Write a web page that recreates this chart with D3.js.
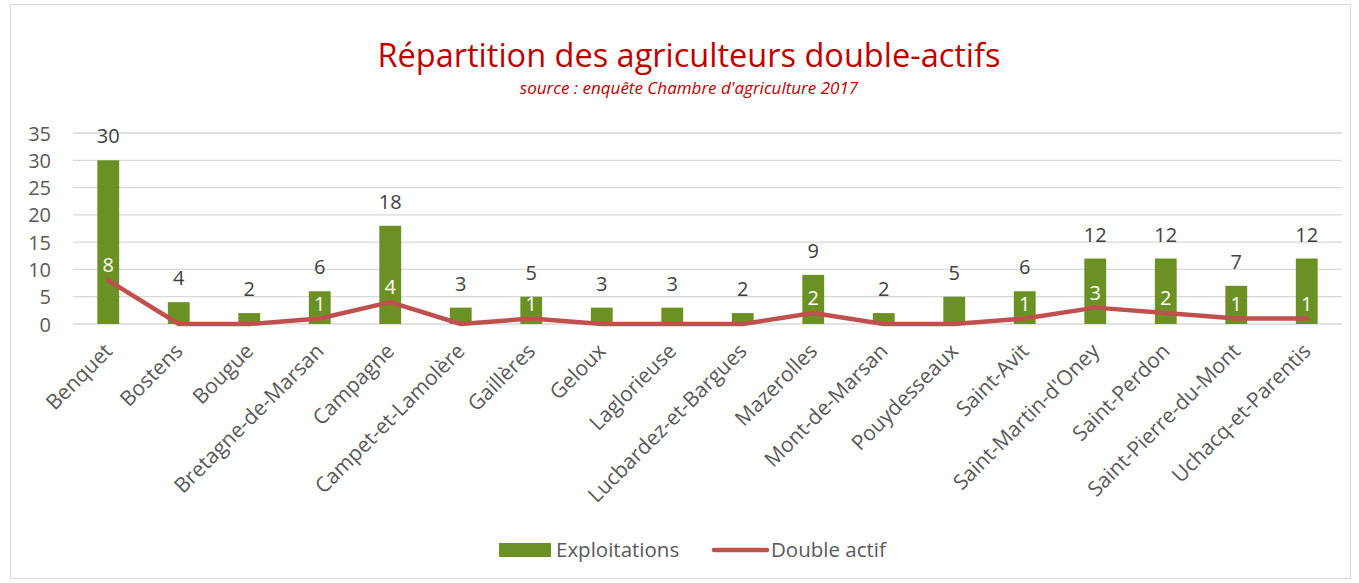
<!DOCTYPE html>
<html>
<head>
<meta charset="utf-8">
<script src="https://cdn.jsdelivr.net/npm/d3@7"></script>
<style>
  body { margin: 0; background: #fff; }
  svg text { font-family: "Open Sans", sans-serif; }
</style>
</head>
<body>
<div class="chart"></div>
<script>
let communes = ['Benquet','Bostens','Bougue','Bretagne-de-Marsan','Campagne','Campet-et-Lamolère','Gaillères','Geloux','Laglorieuse','Lucbardez-et-Bargues','Mazerolles','Mont-de-Marsan','Pouydesseaux','Saint-Avit','Saint-Martin-d\'Oney','Saint-Perdon','Saint-Pierre-du-Mont','Uchacq-et-Parentis']
let exploitations = [30,4,2,6,18,3,5,3,3,2,9,2,5,6,12,12,7,12]
let doubleActif = [8,0,0,1,4,0,1,0,0,0,2,0,0,1,3,2,1,1]
let yTicks = [0,5,10,15,20,25,30,35]

let w = 1359, h = 583
let svg = d3.select('.chart').append('svg').attr('width', w).attr('height', h)

// outer frame
svg.append('rect').attr('x', 10.5).attr('y', 4.5).attr('width', 1340).attr('height', 574)
  .attr('fill', '#fff').attr('stroke', '#d9d9d9')

svg.append('text').text('Répartition des agriculteurs double-actifs')
  .attr('x', 689).attr('y', 67).attr('text-anchor', 'middle')
  .style('font-size', '32.5px').style('fill', '#c00000')
svg.append('text').text('source : enquête Chambre d\'agriculture 2017')
  .attr('x', 689).attr('y', 94).attr('text-anchor', 'middle')
  .style('font-size', '17px').style('font-style', 'italic').style('fill', '#c00000')

let xScale = d3.scaleBand().domain(communes).range([73, 1342]).paddingInner(0.69).paddingOuter(0.345)
let yScale = d3.scaleLinear().domain([0, 35]).range([324, 133])

// gridlines
svg.append('g').selectAll('line').data(yTicks).enter().append('line')
  .attr('x1', 73).attr('x2', 1342)
  .attr('y1', d => yScale(d)).attr('y2', d => yScale(d))
  .attr('stroke', '#d9d9d9').attr('stroke-width', 1.3)

let yAxis = d3.axisLeft(yScale).tickValues(yTicks).tickSize(0).tickPadding(0)
let gy = svg.append('g').attr('transform', 'translate(51,0)').call(yAxis)
gy.select('.domain').remove()
gy.selectAll('text').style('font-size', '20px').style('fill', '#595959').attr('dy', '0.35em')
  .style('font-family', '"Open Sans", sans-serif')

// bars
svg.selectAll('.bar').data(exploitations).enter().append('rect').attr('class', 'bar')
  .attr('x', (d, i) => xScale(communes[i]))
  .attr('y', d => yScale(d))
  .attr('width', xScale.bandwidth())
  .attr('height', d => yScale(0) - yScale(d))
  .attr('fill', '#6b9124')

svg.selectAll('.barlabel').data(exploitations).enter().append('text').attr('class', 'barlabel')
  .text(d => d)
  .attr('x', (d, i) => xScale(communes[i]) + xScale.bandwidth() / 2)
  .attr('y', d => yScale(d) - 17)
  .attr('text-anchor', 'middle')
  .style('font-size', '20px').style('fill', '#404040')

// line
let cx = i => xScale(communes[i]) + xScale.bandwidth() / 2
let line = d3.line().x((d, i) => cx(i)).y(d => yScale(d))
svg.append('path').datum(doubleActif).attr('d', line)
  .attr('fill', 'none').attr('stroke', '#c0504d').attr('stroke-width', 4.5)
  .attr('stroke-linejoin', 'round').attr('stroke-linecap', 'round')

let nonZero = doubleActif.map((d, i) => ({v: d, i: i})).filter(d => d.v > 0)
svg.selectAll('.linelabel').data(nonZero).enter().append('text').attr('class', 'linelabel')
  .text(d => d.v)
  .attr('x', d => cx(d.i))
  .attr('y', d => yScale(d.v) - 8)
  .attr('text-anchor', 'middle')
  .style('font-size', '20px').style('fill', '#fff')

// x labels
svg.selectAll('.xlabel').data(communes).enter().append('text').attr('class', 'xlabel')
  .text(d => d)
  .attr('transform', d => 'translate(' + (xScale(d) + xScale.bandwidth() / 2 - 5) + ',342) rotate(-45)')
  .attr('text-anchor', 'end')
  .attr('dy', '0.7em')
  .style('font-size', '21px').style('fill', '#595959')

// legend
svg.append('rect').attr('x', 499).attr('y', 543).attr('width', 52).attr('height', 14).attr('fill', '#6b9124')
svg.append('text').text('Exploitations').attr('x', 556).attr('y', 557).style('font-size', '20.5px').style('fill', '#595959')
svg.append('line').attr('x1', 714).attr('x2', 767).attr('y1', 550).attr('y2', 550)
  .attr('stroke', '#c0504d').attr('stroke-width', 4.5).attr('stroke-linecap', 'round')
svg.append('text').text('Double actif').attr('x', 771).attr('y', 557).style('font-size', '20.5px').style('fill', '#595959')
</script>
</body>
</html>
